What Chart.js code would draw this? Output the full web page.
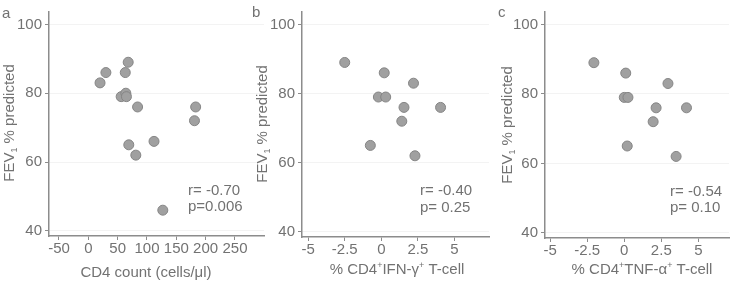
<!DOCTYPE html>
<html><head><meta charset="utf-8">
<script src="https://cdn.jsdelivr.net/npm/chart.js@4/dist/chart.umd.min.js"></script>
<style>
html,body{margin:0;padding:0;background:#fff;width:735px;height:281px;overflow:hidden}
.p{position:absolute;top:0}
canvas{display:block}
</style></head><body>
<div class="p" style="left:0px"><canvas id="ca" width="270" height="281"></canvas></div>
<div class="p" style="left:250px"><canvas id="cb" width="245" height="281"></canvas></div>
<div class="p" style="left:495px"><canvas id="cc" width="240" height="281"></canvas></div>
<script>
// ---- data ----
const cd4Count = [20, 30, 68, 63, 56, 64, 65, 84, 183, 181, 112, 69, 81, 127];
const fevA     = [83, 86, 89, 86, 79, 80, 79, 76, 76, 72, 66, 65, 62, 46];
const ifngPct  = [-2.5, 0.2, 2.2, -0.2, 0.3, 1.55, 4.05, 1.4, -0.75, 2.3];
const fevB     = [89, 86, 83, 79, 79, 76, 76, 72, 65, 62];
const tnfaPct  = [-2.05, 0.1, 2.95, 0.0, 0.25, 2.15, 4.2, 1.95, 0.2, 3.5];
const fevC     = [89, 86, 83, 79, 79, 76, 76, 72, 65, 62];
const xTicksA  = [-50, 0, 50, 100, 150, 200, 250];
const xTicksBC = [-5, -2.5, 0, 2.5, 5];
const yTicks   = [40, 60, 80, 100];
const statsA = ['r= -0.70', 'p=0.006'];
const statsB = ['r= -0.40', 'p= 0.25'];
const statsC = ['r= -0.54', 'p= 0.10'];

const FONT = '"Liberation Sans", Arial, sans-serif';
const TXT = '#727272';

function drawRich(ctx, it){
  const size = it.size || 15;
  ctx.save();
  ctx.fillStyle = TXT;
  ctx.textBaseline = 'alphabetic';
  ctx.textAlign = 'left';
  ctx.translate(it.x, it.y);
  if (it.rot) ctx.rotate(it.rot);
  let total = 0;
  const segs = it.parts.map(p => {
    const s = (p.sup || p.sub) ? Math.round(size*0.6) : size;
    ctx.font = s + 'px ' + FONT;
    const w = ctx.measureText(p.t).width;
    total += w;
    return {t:p.t, s, w, dy: p.sup ? -size*0.4 : (p.sub ? size*0.22 : 0)};
  });
  let x = it.align === 'center' ? -total/2 : 0;
  segs.forEach(g => {
    ctx.font = g.s + 'px ' + FONT;
    ctx.fillText(g.t, x, g.dy);
    x += g.w;
  });
  ctx.restore();
}

const extraText = {};
const txtPlugin = {
  id: 'txtPlugin',
  afterDraw(chart){
    const items = extraText[chart.canvas.id] || [];
    items.forEach(it => drawRich(chart.ctx, it));
  }
};

function yTitle(x, y){
  return {x, y, rot: -Math.PI/2, align:'center', parts:[{t:'FEV'},{t:'1',sub:true},{t:' % predicted'}]};
}

function makeChart(id, xs, ys, xTicks, xmin, xmax, yW, xH, pad){
  const pts = xs.map((v,i) => ({x:v, y:ys[i]}));
  return new Chart(document.getElementById(id), {
    type: 'scatter',
    data: { datasets: [{ data: pts, backgroundColor:'#a0a0a0', borderColor:'#858585', borderWidth:1, pointRadius:5, pointHoverRadius:5 }] },
    options: {
      responsive:false, animation:false,
      layout:{ padding: pad },
      plugins:{ legend:{display:false}, tooltip:{enabled:false} },
      scales:{
        x:{
          type:'linear', min:xmin, max:xmax,
          afterBuildTicks: s => { s.ticks = xTicks.map(v => ({value:v})); },
          afterFit: s => { s.height = xH; },
          grid:{ drawOnChartArea:false, tickLength:4, tickColor:'#8c8c8c', tickWidth:1 },
          border:{ display:true, color:'#8c8c8c', width:1.5 },
          ticks:{ autoSkip:false, maxRotation:0, padding:1, color:TXT, font:{family:FONT, size:15, lineHeight:1.0}, callback: v => String(v) }
        },
        y:{
          type:'linear', min:38.5, max:103.6,
          afterBuildTicks: s => { s.ticks = yTicks.map(v => ({value:v})); },
          afterFit: s => { s.width = yW; },
          grid:{ drawOnChartArea:true, color:'#f3f3f3', tickLength:4, tickColor:'#8c8c8c', tickWidth:1 },
          border:{ display:true, color:'#8c8c8c', width:1.5 },
          ticks:{ padding:3, color:TXT, font:{family:FONT, size:15}, callback: v => String(v) }
        }
      }
    },
    plugins:[txtPlugin]
  });
}

// panel a (canvas left 0)
extraText.ca = [
  {x:2, y:18, parts:[{t:'a'}]},
  yTitle(14, 123),
  {x:146, y:276.5, align:'center', parts:[{t:'CD4 count (cells/\u03bcl)'}]},
  {x:188, y:195, parts:[{t:statsA[0]}]},
  {x:188, y:211, parts:[{t:statsA[1]}]}
];
// panel b (canvas left 250)
extraText.cb = [
  {x:2, y:17, parts:[{t:'b'}]},
  yTitle(17, 124),
  {x:147, y:274, align:'center', parts:[{t:'% CD4'},{t:'+',sup:true},{t:'IFN-\u03b3'},{t:'+',sup:true},{t:' T-cell'}]},
  {x:170, y:195, parts:[{t:statsB[0]}]},
  {x:170, y:211.5, parts:[{t:statsB[1]}]}
];
// panel c (canvas left 495)
extraText.cc = [
  {x:3, y:17, parts:[{t:'c'}]},
  yTitle(17, 125),
  {x:147, y:273.5, align:'center', parts:[{t:'% CD4'},{t:'+',sup:true},{t:'TNF-\u03b1'},{t:'+',sup:true},{t:' T-cell'}]},
  {x:175, y:195.5, parts:[{t:statsC[0]}]},
  {x:175, y:212, parts:[{t:statsC[1]}]}
];

makeChart('ca', cd4Count, fevA, xTicksA, -67, 299.5, 49, 45, {left:0, top:7, right:4, bottom:0});
makeChart('cb', ifngPct, fevB, xTicksBC, -5.42, 7.36, 52, 44, {left:0, top:7, right:2, bottom:0});
makeChart('cc', tnfaPct, fevC, xTicksBC, -5.35, 7.07, 50, 43, {left:0, top:8, right:2, bottom:0});
</script>
</body></html>
